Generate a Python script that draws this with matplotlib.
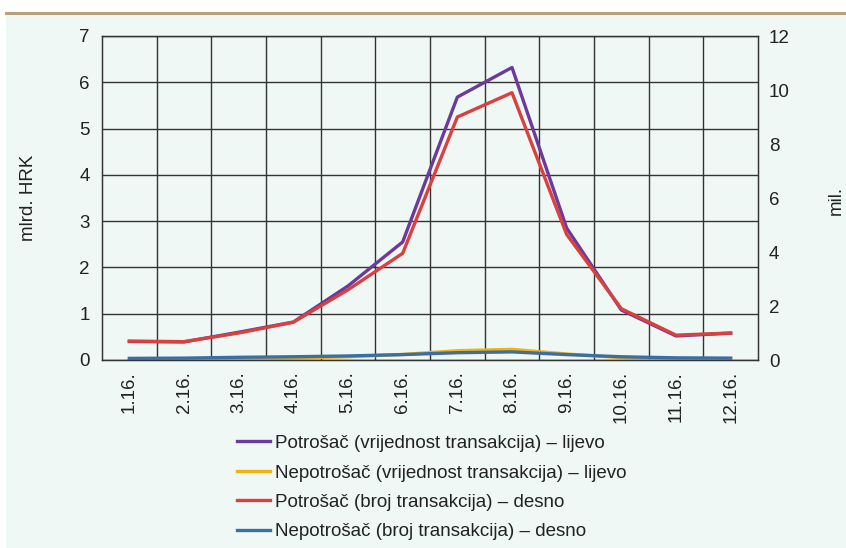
import matplotlib.pyplot as plt
import matplotlib.lines as mlines
from matplotlib.patches import Rectangle

plt.rcParams["font.family"] = ["Liberation Sans", "DejaVu Sans"]

months = ["1.16.", "2.16.", "3.16.", "4.16.", "5.16.", "6.16.",
          "7.16.", "8.16.", "9.16.", "10.16.", "11.16.", "12.16."]

# left axis: mlrd. HRK
potrosac_vrijednost = [0.40, 0.39, 0.60, 0.82, 1.60, 2.55, 5.68, 6.32, 2.85, 1.08, 0.52, 0.58]
nepotrosac_vrijednost = [0.01, 0.01, 0.02, 0.04, 0.07, 0.12, 0.20, 0.23, 0.13, 0.05, 0.03, 0.02]
# right axis: mil. transakcija
potrosac_broj = [0.70, 0.68, 1.00, 1.40, 2.60, 3.95, 9.00, 9.90, 4.65, 1.90, 0.92, 1.00]
nepotrosac_broj = [0.06, 0.07, 0.10, 0.12, 0.15, 0.20, 0.27, 0.30, 0.20, 0.12, 0.08, 0.07]

labels = ["Potrošač (vrijednost transakcija) – lijevo",
          "Nepotrošač (vrijednost transakcija) – lijevo",
          "Potrošač (broj transakcija) – desno",
          "Nepotrošač (broj transakcija) – desno"]
colors = ["#6C3A9C", "#F2B311", "#D9403E", "#3C6EA3"]

bg = "#EFF8F5"
fig = plt.figure(figsize=(8.46, 5.48), dpi=100)
fig.patch.set_facecolor("white")
fig.patches.append(Rectangle((6 / 846, 0), 1, (548 - 14) / 548, transform=fig.transFigure,
                             facecolor=bg, edgecolor="none", zorder=-10))
fig.lines.append(mlines.Line2D([6 / 846, 1], [(548 - 13) / 548] * 2, transform=fig.transFigure,
                               color="#B8996A", linewidth=2))

ax = fig.add_axes([102 / 846, (548 - 360) / 548, 656 / 846, 324 / 548])
ax.set_facecolor("none")
x = list(range(len(months)))

ax.plot(x, potrosac_vrijednost, color=colors[0], linewidth=2.4)
ax.plot(x, nepotrosac_vrijednost, color=colors[1], linewidth=2.4)
ax.set_ylim(0, 7)
ax.set_xlim(-0.5, 11.5)
ax.set_yticks(range(0, 8))
ax.set_xticks(x)
ax.set_xticklabels(months, rotation=90, fontsize=13.5)
ax.set_xticks([i + 0.5 for i in range(11)], minor=True)
ax.grid(True, which="minor", axis="x", color="#333333", linewidth=1)
ax.grid(True, which="major", axis="y", color="#333333", linewidth=1)
ax.tick_params(axis="both", which="both", length=0, labelsize=13.5, colors="#222222")
ax.tick_params(axis="x", pad=8)
ax.tick_params(axis="y", pad=9)
ax.set_axisbelow(True)
for s in ax.spines.values():
    s.set_color("#333333")
    s.set_linewidth(1)
ax.set_ylabel("mlrd. HRK", fontsize=13.5, color="#222222", labelpad=30)

ax2 = ax.twinx()
ax2.plot(x, potrosac_broj, color=colors[2], linewidth=2.4)
ax2.plot(x, nepotrosac_broj, color=colors[3], linewidth=2.4)
ax2.set_ylim(0, 12)
ax2.set_yticks(range(0, 13, 2))
ax2.tick_params(axis="y", length=0, labelsize=13.5, colors="#222222", pad=8)
for s in ax2.spines.values():
    s.set_color("#333333")
fig.text(828 / 846, (548 - 200) / 548, "mil.", rotation=90, fontsize=13.5,
         color="#222222", ha="left", va="center")

handles = [mlines.Line2D([], [], color=c, linewidth=2.4) for c in colors]
fig.legend(handles, labels, loc="upper left", bbox_to_anchor=(220 / 846, (548 - 418) / 548),
           frameon=False, fontsize=13.5, handlelength=1.75, handletextpad=0.3,
           labelspacing=0.66, labelcolor="#222222")

fig.savefig("out.png", dpi=100)
